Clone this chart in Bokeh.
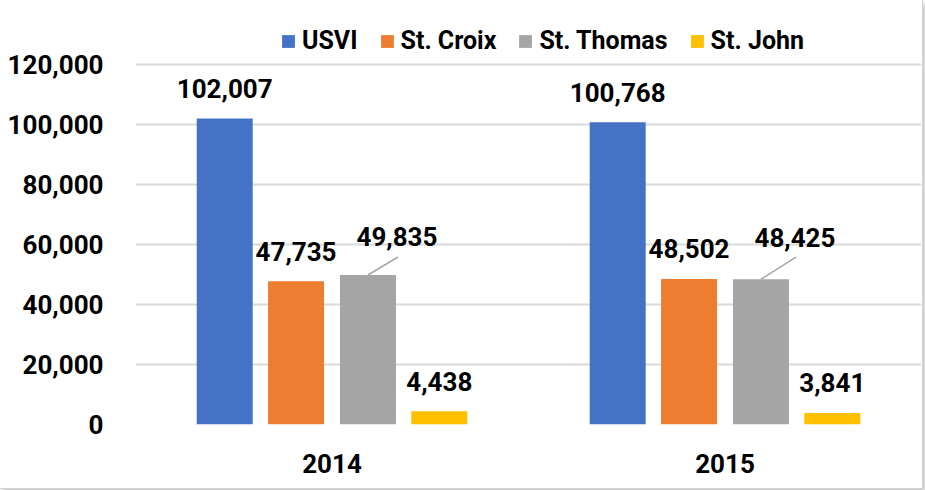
import math
from bokeh.plotting import figure
from bokeh.models import (ColumnDataSource, Range1d, FixedTicker, NumeralTickFormatter,
                          Legend, LegendItem)
from bokeh.core.properties import value
from bokeh.embed import file_html
from bokeh.resources import INLINE

# ---- data ----
years = ["2014", "2015"]
series = ["USVI", "St. Croix", "St. Thomas", "St. John"]
usvi = [102007, 100768]
st_croix = [47735, 48502]
st_thomas = [49835, 48425]
st_john = [4438, 3841]
y_ticks = [0, 20000, 40000, 60000, 80000, 100000, 120000]

# ---- style ----
colors = ["#4472C4", "#ED7D31", "#A5A5A5", "#FFC000"]
offsets = [-0.273, -0.0915, 0.0915, 0.273]
bar_w = 0.1425
FONT = "Roboto"
Y_TOP = 136667  # extra headroom above the 120,000 gridline for the legend
# label placement (screen px) per series/year: (dx, dy)
label_shift = {
    "USVI": [(0, -30), (0, -30)],
    "St. Croix": [(0, -30), (0, -30)],
    "St. Thomas": [(29, -38), (34, -42)],
    "St. John": [(0, -30), (0, -30)],
}

values = {"USVI": usvi, "St. Croix": st_croix, "St. Thomas": st_thomas, "St. John": st_john}
centers = [i + 0.5 for i in range(len(years))]

p = figure(width=922, height=488, output_backend="svg", toolbar_location=None,
           x_range=Range1d(0, 2), y_range=Range1d(0, Y_TOP),
           min_border_left=135, min_border_right=1, min_border_top=14, min_border_bottom=64)
p.styles = {"outline": "1px solid #d4d4d4", "box-shadow": "3px 4px 5px #bdbdbd"}
p.outline_line_color = None
p.background_fill_color = "white"
p.border_fill_color = "white"

items = []
for s, c, off in zip(series, colors, offsets):
    vals = values[s]
    xs = [cx + off for cx in centers]
    src = ColumnDataSource(dict(x=xs, top=vals,
                                lbl=[f"{v:,}" for v in vals],
                                dx=[d[0] for d in label_shift[s]],
                                dy=[d[1] for d in label_shift[s]]))
    r = p.vbar(x="x", top="top", width=bar_w, source=src, fill_color=c, line_color=None)
    items.append(LegendItem(label=s, renderers=[r]))
    p.text(x="x", y="top", text="lbl", x_offset="dx", y_offset="dy", source=src,
           text_font=value(FONT), text_font_style="bold", text_font_size="26px",
           text_align="center", text_baseline="alphabetic", text_color="black")
    if s == "St. Thomas":
        lens = [math.hypot(30, 18), math.hypot(35, 22)]
        angs = [math.atan2(18, 30), math.atan2(22, 35)]
        p.ray(x=xs, y=vals, length=lens, length_units="screen", angle=angs,
              line_color="#A6A6A6", line_width=1.5)

legend = Legend(items=items, orientation="horizontal", location=(145, 369),
                glyph_width=16, glyph_height=16, label_standoff=6, spacing=21,
                padding=0, margin=0, border_line_color=None, background_fill_alpha=0,
                label_text_font=FONT, label_text_font_style="bold",
                label_text_font_size="25px", label_text_color="black")
p.add_layout(legend, "center")

# axes
p.xaxis.ticker = FixedTicker(ticks=centers)
p.xaxis.major_label_overrides = {c: y for c, y in zip(centers, years)}
p.yaxis.ticker = FixedTicker(ticks=y_ticks)
p.yaxis.formatter = NumeralTickFormatter(format="0,0")
for ax in (p.xaxis, p.yaxis):
    ax.axis_line_color = None
    ax.major_tick_line_color = None
    ax.minor_tick_line_color = None
    ax.major_label_text_font = FONT
    ax.major_label_text_font_style = "bold"
    ax.major_label_text_font_size = "26px"
    ax.major_label_text_color = "black"
p.yaxis.major_label_standoff = 26
p.xaxis.major_label_standoff = 23

p.xgrid.grid_line_color = None
p.ygrid.ticker = FixedTicker(ticks=y_ticks)
p.ygrid.grid_line_color = "#D9D9D9"
p.ygrid.grid_line_width = 2

open("out.html", "w").write(file_html(p, INLINE))
